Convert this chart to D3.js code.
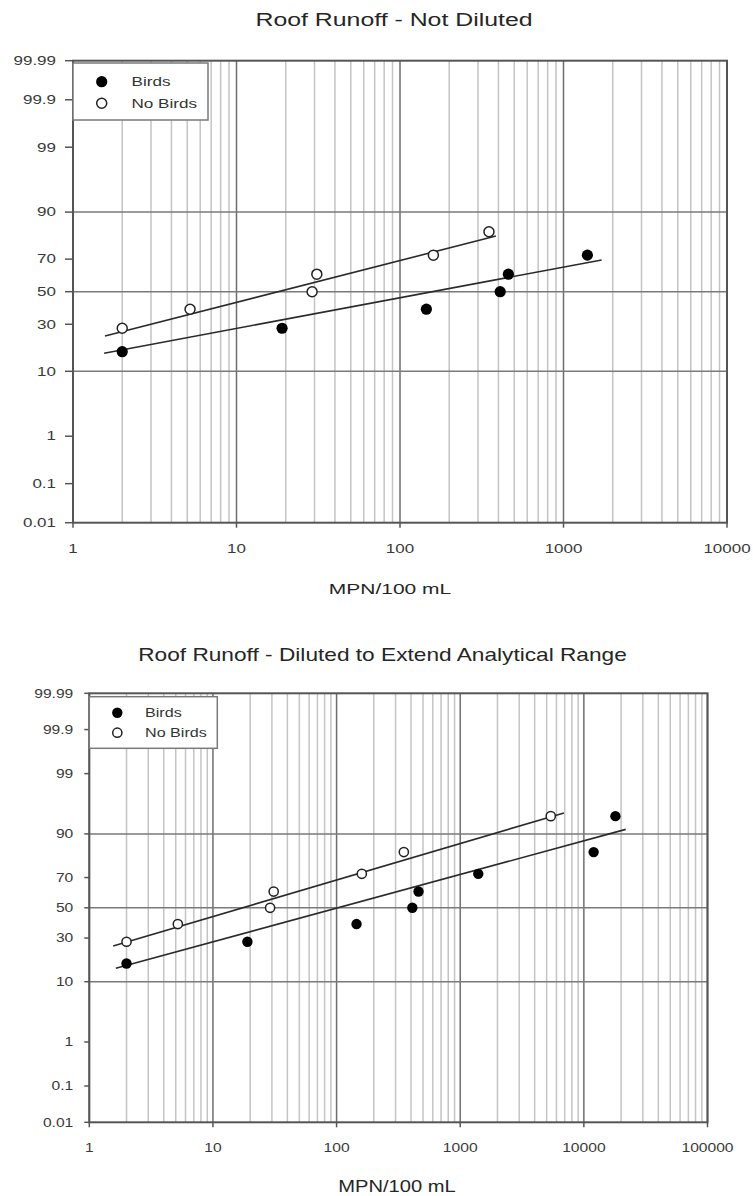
<!DOCTYPE html>
<html>
<head>
<meta charset="utf-8">
<script src="https://cdn.jsdelivr.net/npm/d3@7"></script>
<style>
  html, body { margin: 0; padding: 0; background: #fff; }
  svg { display: block; font-family: "Liberation Sans", Arial, sans-serif; }
</style>
</head>
<body>
<svg id="chart" width="753" height="1196"></svg>
<script>
// ---- probability axis ticks (cumulative percent) ----
const percentTicks = [0.01, 0.1, 1, 10, 30, 50, 70, 90, 99, 99.9, 99.99];
const percentTickLabels = ["0.01", "0.1", "1", "10", "30", "50", "70", "90", "99", "99.9", "99.99"];
const percentGridLines = [10, 50, 90];

// ---- Roof runoff, not diluted ----
const notDilutedTitle = "Roof Runoff - Not Diluted";
const notDilutedXTicks = [1, 10, 100, 1000, 10000];
const notDilutedXTickLabels = ["1", "10", "100", "1000", "10000"];
const notDilutedBirdsMPN = [2, 19, 145, 410, 460, 1400];
const notDilutedBirdsPct = [16.7, 27.8, 38.9, 50, 61.1, 72.2];
const notDilutedNoBirdsMPN = [2, 5.2, 29, 31, 160, 350];
const notDilutedNoBirdsPct = [27.8, 38.9, 50, 61.1, 72.2, 83.3];
const notDilutedBirdsFitMPN = [1.55, 1710];
const notDilutedBirdsFitPct = [16.1, 69.5];
const notDilutedNoBirdsFitMPN = [1.57, 386];
const notDilutedNoBirdsFitPct = [23.8, 81.5];

// ---- Roof runoff, diluted ----
const dilutedTitle = "Roof Runoff - Diluted to Extend Analytical Range";
const dilutedXTicks = [1, 10, 100, 1000, 10000, 100000];
const dilutedXTickLabels = ["1", "10", "100", "1000", "10000", "100000"];
const dilutedBirdsMPN = [2, 19, 145, 410, 460, 1400, 12000, 18000];
const dilutedBirdsPct = [16.7, 27.8, 38.9, 50, 61.1, 72.2, 83.3, 94.4];
const dilutedNoBirdsMPN = [2, 5.2, 29, 31, 160, 350, 5400];
const dilutedNoBirdsPct = [27.8, 38.9, 50, 61.1, 72.2, 83.3, 94.4];
const dilutedBirdsFitMPN = [1.64, 21800];
const dilutedBirdsFitPct = [14.7, 91.3];
const dilutedNoBirdsFitMPN = [1.56, 6900];
const dilutedNoBirdsFitPct = [25.4, 95.0];

const legendLabels = ["Birds", "No Birds"];
const xAxisTitle = "MPN/100 mL";

// Inverse standard normal CDF (Acklam's rational approximation)
function normInv(p) {
  const a = [-3.969683028665376e+01, 2.209460984245205e+02, -2.759285104469687e+02,
             1.383577518672690e+02, -3.066479806614716e+01, 2.506628277459239e+00];
  const b = [-5.447609879822406e+01, 1.615858368580409e+02, -1.556989798598866e+02,
             6.680131188771972e+01, -1.328068155288572e+01];
  const c = [-7.784894002430293e-03, -3.223964580411365e-01, -2.400758277161838e+00,
             -2.549732539343734e+00, 4.374664141464968e+00, 2.938163982698783e+00];
  const d = [7.784695709041462e-03, 3.224671290700398e-01, 2.445134137142996e+00,
             3.754408661907416e+00];
  const pl = 0.02425, ph = 1 - pl;
  let q, r;
  if (p < pl) {
    q = Math.sqrt(-2 * Math.log(p));
    return (((((c[0]*q+c[1])*q+c[2])*q+c[3])*q+c[4])*q+c[5]) /
           ((((d[0]*q+d[1])*q+d[2])*q+d[3])*q+1);
  }
  if (p <= ph) {
    q = p - 0.5; r = q * q;
    return (((((a[0]*r+a[1])*r+a[2])*r+a[3])*r+a[4])*r+a[5])*q /
           (((((b[0]*r+b[1])*r+b[2])*r+b[3])*r+b[4])*r+1);
  }
  q = Math.sqrt(-2 * Math.log(1 - p));
  return -(((((c[0]*q+c[1])*q+c[2])*q+c[3])*q+c[4])*q+c[5]) /
          ((((d[0]*q+d[1])*q+d[2])*q+d[3])*q+1);
}

const svg = d3.select("#chart");

function drawPanel(cfg) {
  const g = svg.append("g");
  const sx = cfg.textStretch;

  const x = d3.scaleLog().domain(cfg.xDomain).range([cfg.left, cfg.right]);
  const z = d3.scaleLinear()
    .domain([normInv(0.0001), normInv(0.9999)])
    .range([cfg.bottom, cfg.top]);
  const y = pct => z(normInv(pct / 100));

  function label(px, py, str, size, anchor, color) {
    return g.append("text")
      .attr("transform", `translate(${px},${py}) scale(${sx},1)`)
      .attr("text-anchor", anchor)
      .attr("font-size", size)
      .attr("fill", color)
      .text(str);
  }

  // vertical grid: minor (2..9 of each decade) and decade lines
  const allTicks = x.ticks();
  const decades = allTicks.filter(v => Math.abs(Math.log10(v) - Math.round(Math.log10(v))) < 1e-9);
  const minors = allTicks.filter(v => !decades.includes(v));
  g.append("g").selectAll("line").data(minors).join("line")
    .attr("x1", d => x(d)).attr("x2", d => x(d))
    .attr("y1", cfg.top).attr("y2", cfg.bottom)
    .attr("stroke", "#c4c4c4").attr("stroke-width", 1.5);
  g.append("g").selectAll("line").data(decades).join("line")
    .attr("x1", d => x(d)).attr("x2", d => x(d))
    .attr("y1", cfg.top).attr("y2", cfg.bottom)
    .attr("stroke", "#6e6e6e").attr("stroke-width", 1.5);

  // horizontal grid at 10, 50, 90 %
  g.append("g").selectAll("line").data(percentGridLines).join("line")
    .attr("x1", cfg.left).attr("x2", cfg.right)
    .attr("y1", d => y(d)).attr("y2", d => y(d))
    .attr("stroke", "#7a7a7a").attr("stroke-width", 1.5);

  // frame
  g.append("rect")
    .attr("x", cfg.left).attr("y", cfg.top)
    .attr("width", cfg.right - cfg.left).attr("height", cfg.bottom - cfg.top)
    .attr("fill", "none").attr("stroke", "#555").attr("stroke-width", 2);

  // y ticks and labels
  g.append("g").selectAll("line").data(percentTicks).join("line")
    .attr("x1", cfg.left - cfg.yTickLen).attr("x2", cfg.left)
    .attr("y1", d => y(d)).attr("y2", d => y(d))
    .attr("stroke", "#555").attr("stroke-width", 1.5);
  percentTicks.forEach((p, i) => {
    label(cfg.left - cfg.yLabelGap, y(p) + 4.3, percentTickLabels[i], cfg.tickSize, "end", "#3a3a3a");
  });

  // x ticks and labels
  g.append("g").selectAll("line").data(cfg.xTicks).join("line")
    .attr("x1", d => x(d)).attr("x2", d => x(d))
    .attr("y1", cfg.bottom).attr("y2", cfg.bottom + 5)
    .attr("stroke", "#555").attr("stroke-width", 1.5);
  cfg.xTicks.forEach((v, i) => {
    label(x(v), cfg.bottom + cfg.xLabelDy, cfg.xTickLabels[i], cfg.tickSize, "middle", "#3a3a3a");
  });

  // titles
  label(cfg.titleX, cfg.titleY, cfg.title, cfg.titleSize, "middle", "#262626");
  label(cfg.axisTitleX, cfg.bottom + cfg.axisTitleDy, xAxisTitle, cfg.axisTitleSize, "middle", "#262626");

  // fitted lines
  const line = d3.line().x(d => x(d[0])).y(d => y(d[1]));
  [[cfg.noBirdsFitMPN, cfg.noBirdsFitPct], [cfg.birdsFitMPN, cfg.birdsFitPct]].forEach(([m, p]) => {
    g.append("path")
      .datum(m.map((v, i) => [v, p[i]]))
      .attr("d", line)
      .attr("fill", "none").attr("stroke", "#2a2a2a").attr("stroke-width", 1.6);
  });

  // points
  g.append("g").selectAll("circle")
    .data(cfg.noBirdsMPN.map((v, i) => [v, cfg.noBirdsPct[i]])).join("circle")
    .attr("cx", d => x(d[0])).attr("cy", d => y(d[1])).attr("r", cfg.markerR - 0.6)
    .attr("fill", "#fff").attr("stroke", "#222").attr("stroke-width", 1.5);
  g.append("g").selectAll("circle")
    .data(cfg.birdsMPN.map((v, i) => [v, cfg.birdsPct[i]])).join("circle")
    .attr("cx", d => x(d[0])).attr("cy", d => y(d[1])).attr("r", cfg.markerR)
    .attr("fill", "#000");

  // legend
  const L = cfg.legend;
  g.append("rect")
    .attr("x", cfg.left).attr("y", L.y0)
    .attr("width", L.w).attr("height", L.h)
    .attr("fill", "#fff").attr("stroke", "#7a7a7a").attr("stroke-width", 1.5);
  g.append("circle").attr("cx", L.mx).attr("cy", L.row1).attr("r", cfg.markerR).attr("fill", "#000");
  g.append("circle").attr("cx", L.mx).attr("cy", L.row2).attr("r", cfg.markerR - 0.6)
    .attr("fill", "#fff").attr("stroke", "#222").attr("stroke-width", 1.5);
  label(L.tx, L.row1 + 4.5, legendLabels[0], cfg.legendSize, "start", "#333");
  label(L.tx, L.row2 + 4.5, legendLabels[1], cfg.legendSize, "start", "#333");
}

drawPanel({
  title: notDilutedTitle, titleX: 394, titleY: 26, titleSize: 18,
  textStretch: 1.38,
  xDomain: [1, 10000], xTicks: notDilutedXTicks, xTickLabels: notDilutedXTickLabels,
  left: 73, right: 727, top: 60.7, bottom: 522.7,
  yTickLen: 8, yLabelGap: 17, xLabelDy: 30, tickSize: 12.3,
  axisTitleX: 390, axisTitleDy: 71, axisTitleSize: 15.2,
  birdsMPN: notDilutedBirdsMPN, birdsPct: notDilutedBirdsPct,
  noBirdsMPN: notDilutedNoBirdsMPN, noBirdsPct: notDilutedNoBirdsPct,
  birdsFitMPN: notDilutedBirdsFitMPN, birdsFitPct: notDilutedBirdsFitPct,
  noBirdsFitMPN: notDilutedNoBirdsFitMPN, noBirdsFitPct: notDilutedNoBirdsFitPct,
  markerR: 5.6, legendSize: 12.4,
  legend: { y0: 63, w: 135, h: 57, mx: 101.7, tx: 131.5, row1: 81.7, row2: 103.3 }
});

drawPanel({
  title: dilutedTitle, titleX: 382.5, titleY: 661, titleSize: 18,
  textStretch: 1.26,
  xDomain: [1, 100000], xTicks: dilutedXTicks, xTickLabels: dilutedXTickLabels,
  left: 89.3, right: 707.5, top: 693.3, bottom: 1122.3,
  yTickLen: 5, yLabelGap: 16, xLabelDy: 30, tickSize: 12.4,
  axisTitleX: 397, axisTitleDy: 70, axisTitleSize: 16,
  birdsMPN: dilutedBirdsMPN, birdsPct: dilutedBirdsPct,
  noBirdsMPN: dilutedNoBirdsMPN, noBirdsPct: dilutedNoBirdsPct,
  birdsFitMPN: dilutedBirdsFitMPN, birdsFitPct: dilutedBirdsFitPct,
  noBirdsFitMPN: dilutedNoBirdsFitMPN, noBirdsFitPct: dilutedNoBirdsFitPct,
  markerR: 5.2, legendSize: 12.8,
  legend: { y0: 696.7, w: 128, h: 51.6, mx: 117.3, tx: 145, row1: 712.7, row2: 732.7 }
});
</script>
</body>
</html>
